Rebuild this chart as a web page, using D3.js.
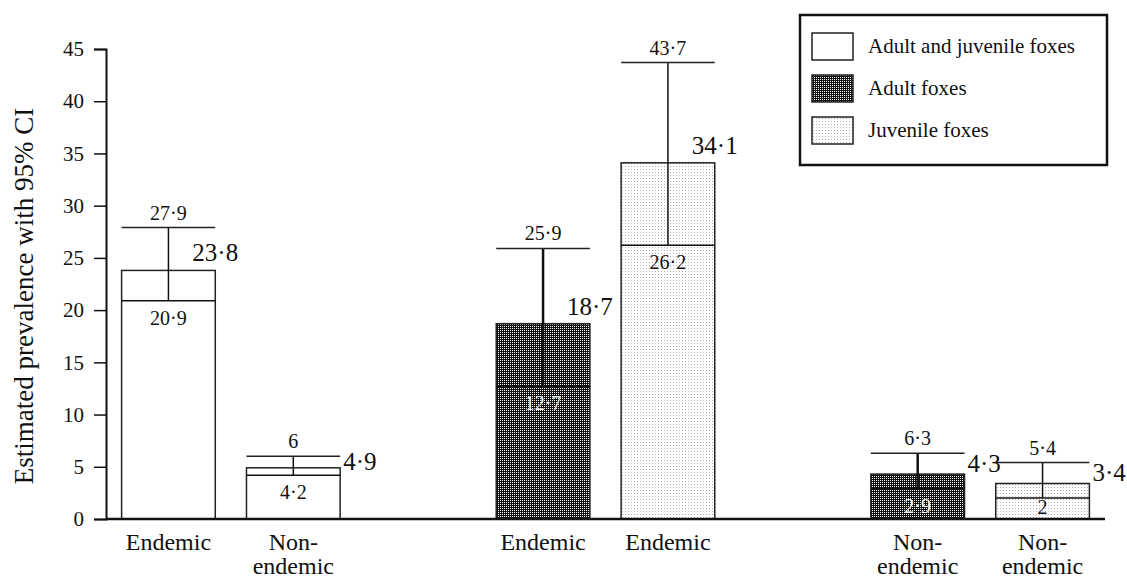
<!DOCTYPE html>
<html>
<head>
<meta charset="utf-8">
<script src="https://cdn.jsdelivr.net/npm/d3@7"></script>
<style>
  body { margin: 0; background: #fff; }
  svg { display: block; }
  text { font-family: "Liberation Serif", "Times New Roman", serif; fill: #111; }
</style>
</head>
<body>
<div id="chart"></div>
<script>
// bar ids in the order drawn; spacer ids leave the gaps between groups
const barIds = ['bothEnd', 'bothNon', 'adultEnd', 'juvEnd', 'adultNon', 'juvNon'];
const xDomain = ['bothEnd', 'bothNon', 'gap1', 'adultEnd', 'juvEnd', 'gap2', 'adultNon', 'juvNon'];
const categories = ['Endemic', 'Non-|endemic', 'Endemic', 'Endemic', 'Non-|endemic', 'Non-|endemic'];
const groups = ['both', 'both', 'adult', 'juvenile', 'adult', 'juvenile'];
const prevalence = [23.8, 4.9, 18.7, 34.1, 4.3, 3.4];
const lowerCI = [20.9, 4.2, 12.7, 26.2, 2.9, 2];
const upperCI = [27.9, 6, 25.9, 43.7, 6.3, 5.4];
const yTicks = [0, 5, 10, 15, 20, 25, 30, 35, 40, 45];
const legendGroups = ['both', 'adult', 'juvenile'];
const legendLabels = ['Adult and juvenile foxes', 'Adult foxes', 'Juvenile foxes'];

const width = 1127, height = 580;
const fmt = v => String(v).replace('.', '\u00B7');

const svg = d3.select('#chart').append('svg')
  .attr('width', width)
  .attr('height', height);

// fill patterns
const defs = svg.append('defs');
const dark = defs.append('pattern').attr('id', 'dark')
  .attr('patternUnits', 'userSpaceOnUse').attr('width', 2).attr('height', 2);
dark.append('rect').attr('width', 2).attr('height', 2).attr('fill', '#111');
dark.append('rect').attr('width', 1).attr('height', 1).attr('fill', '#fff');

const light = defs.append('pattern').attr('id', 'light')
  .attr('patternUnits', 'userSpaceOnUse').attr('width', 3).attr('height', 3);
light.append('rect').attr('width', 3).attr('height', 3).attr('fill', '#fff');
light.append('rect').attr('x', 1).attr('y', 1).attr('width', 1).attr('height', 1).attr('fill', '#b0b0b0');

const fillFor = g => g === 'adult' ? 'url(#dark)' : g === 'juvenile' ? 'url(#light)' : '#fff';

const x = d3.scaleBand().domain(xDomain).range([106, 1105])
  .paddingInner(0.25).paddingOuter(0.125);
const y = d3.scaleLinear().domain([0, 45]).range([519, 49]);

// y axis
const yAxis = svg.append('g').attr('transform', 'translate(106,0)')
  .call(d3.axisLeft(y).tickValues(yTicks).tickSize(12).tickPadding(10));
yAxis.select('.domain').attr('stroke', '#111').attr('stroke-width', 2);
yAxis.selectAll('.tick line').attr('stroke', '#111').attr('stroke-width', 1.5);
yAxis.selectAll('.tick text')
  .style('font-family', '"Liberation Serif", serif')
  .style('font-size', '21px').attr('fill', '#111');

svg.append('text')
  .attr('transform', `translate(33,${(y(0) + y(45)) / 2 + 12}) rotate(-90)`)
  .attr('text-anchor', 'middle')
  .style('font-size', '27px')
  .text('Estimated prevalence with 95% CI');

const data = barIds.map((id, i) => ({
  id, cat: categories[i], group: groups[i],
  value: prevalence[i], lo: lowerCI[i], hi: upperCI[i]
}));

const bar = svg.selectAll('.bar').data(data).enter().append('g').attr('class', 'bar');

bar.append('rect')
  .attr('x', d => x(d.id))
  .attr('y', d => y(d.value))
  .attr('width', x.bandwidth())
  .attr('height', d => y(0) - y(d.value))
  .attr('fill', d => fillFor(d.group))
  .attr('stroke', '#222')
  .attr('stroke-width', 1.5);

// lower CI line across the bar
bar.append('line')
  .attr('x1', d => x(d.id)).attr('x2', d => x(d.id) + x.bandwidth())
  .attr('y1', d => y(d.lo)).attr('y2', d => y(d.lo))
  .attr('stroke', '#111')
  .attr('stroke-width', d => d.group === 'adult' ? 2.5 : 1.5);

// whisker from upper CI down to lower CI
bar.append('line')
  .attr('x1', d => x(d.id) + x.bandwidth() / 2).attr('x2', d => x(d.id) + x.bandwidth() / 2)
  .attr('y1', d => y(d.hi)).attr('y2', d => y(d.lo))
  .attr('stroke', '#111')
  .attr('stroke-width', d => d.group === 'adult' ? 2.5 : 1.5);

// cap
bar.append('line')
  .attr('x1', d => x(d.id)).attr('x2', d => x(d.id) + x.bandwidth())
  .attr('y1', d => y(d.hi)).attr('y2', d => y(d.hi))
  .attr('stroke', '#222').attr('stroke-width', 1.5);

// upper CI label
bar.append('text')
  .attr('x', d => x(d.id) + x.bandwidth() / 2)
  .attr('y', d => y(d.hi) - 8)
  .attr('text-anchor', 'middle')
  .style('font-size', '20px')
  .text(d => fmt(d.hi));

// lower CI label
bar.append('text')
  .attr('x', d => x(d.id) + x.bandwidth() / 2)
  .attr('y', d => Math.min(y(d.lo) + 24, y(0) - 5))
  .attr('text-anchor', 'middle')
  .style('font-size', '20px')
  .style('fill', d => d.group === 'adult' ? '#fff' : '#111')
  .text(d => fmt(d.lo));

// prevalence label, pushed right when the cap sits close to the bar top
bar.append('text')
  .each(function (d) {
    const gap = y(d.value) - y(d.hi);
    const right = x(d.id) + x.bandwidth();
    const t = d3.select(this);
    if (gap < 30) {
      t.attr('x', right + 3).attr('y', (y(d.value) + y(d.hi)) / 2 + 8).attr('text-anchor', 'start');
    } else {
      t.attr('x', right).attr('y', y(d.value) - 9).attr('text-anchor', 'middle');
    }
  })
  .style('font-size', '25px')
  .text(d => fmt(d.value));

// category labels
bar.append('text')
  .attr('text-anchor', 'middle')
  .style('font-size', '24px')
  .selectAll('tspan')
  .data(d => d.cat.split('|').map(s => ({ s, cx: x(d.id) + x.bandwidth() / 2 })))
  .enter().append('tspan')
  .attr('x', t => t.cx)
  .attr('y', (t, i) => 550 + i * 24)
  .text(t => t.s);

// baseline
svg.append('line')
  .attr('x1', 106).attr('x2', 1105)
  .attr('y1', y(0)).attr('y2', y(0))
  .attr('stroke', '#111').attr('stroke-width', 2.5);

// legend
const legend = svg.append('g');
legend.append('rect')
  .attr('x', 800).attr('y', 15).attr('width', 307).attr('height', 150)
  .attr('fill', '#fff').attr('stroke', '#111').attr('stroke-width', 2.5);

const item = legend.selectAll('.item').data(legendGroups).enter().append('g')
  .attr('transform', (d, i) => `translate(812,${33 + i * 42})`);
item.append('rect')
  .attr('width', 41).attr('height', 27)
  .attr('fill', d => fillFor(d))
  .attr('stroke', '#222').attr('stroke-width', 1.5);
item.append('text')
  .attr('x', 56).attr('y', 20)
  .style('font-size', '21px')
  .text((d, i) => legendLabels[i]);
</script>
</body>
</html>
